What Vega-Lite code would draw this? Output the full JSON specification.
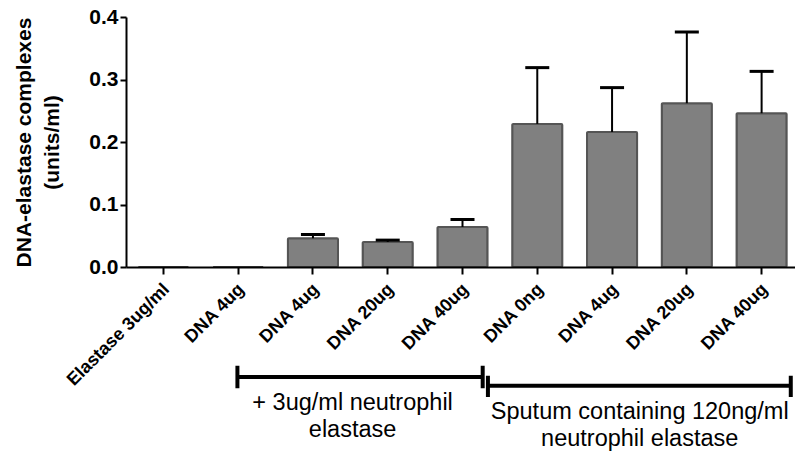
{
  "$schema": "https://vega.github.io/schema/vega-lite/v6.json",
  "autosize": {"type": "none"},
  "padding": {"left": 126, "top": 17, "right": 0, "bottom": 192},
  "width": 673,
  "height": 250,
  "config": {
    "view": {"stroke": null},
    "font": "Liberation Sans",
    "axis": {"labelFont": "Liberation Sans", "titleFont": "Liberation Sans"}
  },
  "datasets": {
    "bars": [
      {"key": "1|Elastase 3ug/ml", "value": 0, "upper": null},
      {"key": "2|DNA 4ug", "value": 0, "upper": null},
      {"key": "3|DNA 4ug", "value": 0.046, "upper": 0.052},
      {"key": "4|DNA 20ug", "value": 0.040, "upper": 0.043},
      {"key": "5|DNA 40ug", "value": 0.064, "upper": 0.076},
      {"key": "6|DNA 0ng", "value": 0.229, "upper": 0.319},
      {"key": "7|DNA 4ug", "value": 0.216, "upper": 0.287},
      {"key": "8|DNA 20ug", "value": 0.262, "upper": 0.376},
      {"key": "9|DNA 40ug", "value": 0.246, "upper": 0.313}
    ],
    "brackets": [
      {"bx": 1.49, "bx2": 4.77, "by": -0.176, "by2": -0.176},
      {"bx": 1.49, "bx2": 1.49, "by": -0.158, "by2": -0.194},
      {"bx": 4.77, "bx2": 4.77, "by": -0.158, "by2": -0.194},
      {"bx": 4.84, "bx2": 8.89, "by": -0.190, "by2": -0.190},
      {"bx": 4.84, "bx2": 4.84, "by": -0.174, "by2": -0.208},
      {"bx": 8.89, "bx2": 8.89, "by": -0.174, "by2": -0.208}
    ],
    "labels": [
      {"bx": 3.03, "by": -0.199, "label": "+ 3ug/ml neutrophil\nelastase"},
      {"bx": 6.87, "by": -0.213, "label": "Sputum containing 120ng/ml\nneutrophil elastase"}
    ]
  },
  "layer": [
    {
      "data": {"name": "bars"},
      "encoding": {
        "x": {
          "field": "key",
          "type": "ordinal",
          "sort": null,
          "scale": {"paddingInner": 0.33, "paddingOuter": 0.165},
          "axis": {
            "title": null,
            "zindex": 1,
            "labelExpr": "split(datum.value, '|')[1]",
            "labelAngle": -45,
            "labelFontSize": 18,
            "labelFontWeight": "bold",
            "labelColor": "#000000",
            "labelPadding": 6,
            "labelOffset": -3,
            "tickColor": "#000000",
            "tickWidth": 2,
            "tickSize": 7,
            "domainColor": "#000000",
            "domainWidth": 2
          }
        }
      },
      "layer": [
        {
          "mark": {"type": "bar", "fill": "#808080", "stroke": "#555555", "strokeWidth": 2, "cornerRadius": 1},
          "encoding": {
            "y": {
              "field": "value",
              "type": "quantitative",
              "scale": {"domain": [0, 0.4]},
              "axis": {
                "zindex": 1,
                "title": ["DNA-elastase complexes", "(units/ml)"],
                "titleFontSize": 21,
                "titleFontWeight": "bold",
                "titleColor": "#000000",
                "titleLineHeight": 28,
                "titlePadding": 26,
                "values": [0, 0.1, 0.2, 0.3, 0.4],
                "format": ".1f",
                "grid": false,
                "labelFontSize": 21,
                "labelFontWeight": "bold",
                "labelColor": "#000000",
                "labelPadding": 2,
                "tickColor": "#000000",
                "tickWidth": 2,
                "tickSize": 6,
                "domainColor": "#000000",
                "domainWidth": 2
              }
            }
          }
        },
        {
          "transform": [{"filter": "datum.upper != null"}],
          "mark": {"type": "rule", "color": "#000000", "strokeWidth": 2},
          "encoding": {
            "y": {"field": "value", "type": "quantitative"},
            "y2": {"field": "upper"}
          }
        },
        {
          "transform": [{"filter": "datum.upper != null"}],
          "mark": {"type": "tick", "color": "#000000", "size": 24, "thickness": 3, "opacity": 1},
          "encoding": {
            "y": {"field": "upper", "type": "quantitative"}
          }
        }
      ]
    },
    {
      "layer": [
        {
          "data": {"name": "brackets"},
          "mark": {"type": "rule", "color": "#000000", "strokeWidth": 4},
          "encoding": {
            "x": {"field": "bx", "type": "quantitative", "scale": {"domain": [0, 9], "nice": false, "zero": false}, "axis": null},
            "x2": {"field": "bx2"},
            "y": {"field": "by", "type": "quantitative"},
            "y2": {"field": "by2"}
          }
        },
        {
          "data": {"name": "labels"},
          "mark": {"type": "text", "fontSize": 23.5, "lineBreak": "\n", "lineHeight": 27, "align": "center", "baseline": "top", "color": "#000000"},
          "encoding": {
            "x": {"field": "bx", "type": "quantitative"},
            "y": {"field": "by", "type": "quantitative"},
            "text": {"field": "label"}
          }
        }
      ]
    }
  ],
  "resolve": {"scale": {"x": "independent"}, "axis": {"x": "independent"}}
}
